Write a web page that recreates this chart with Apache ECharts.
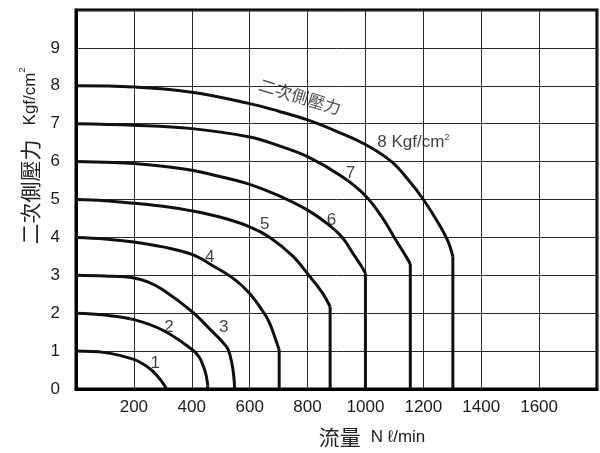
<!DOCTYPE html>
<html><head><meta charset="utf-8">
<script src="https://cdn.jsdelivr.net/npm/echarts@6/dist/echarts.min.js"></script>
<style>html,body{margin:0;padding:0;background:#fff}#c{width:600px;height:453px}</style>
</head><body><div id="c"></div>
<script>
// Secondary pressure curves: [flow N l/min, pressure kgf/cm2]
const curve1 = [[0,1.0],[100,0.96],[200,0.78],[240,0.62],[265,0.47],[290,0.26],[305,0.1],[313,0]];
const curve2 = [[0,2.0],[100,1.95],[200,1.83],[300,1.55],[400,1.05],[425,0.85],[440,0.6],[450,0.35],[455,0.1],[455,0]];
const curve3 = [[0,3.0],[100,2.98],[200,2.93],[250,2.82],[300,2.62],[400,2.05],[460,1.6],[505,1.25],[525,1.05],[538,0.7],[545,0.35],[548,0]];
const curve4 = [[0,4.0],[100,3.96],[200,3.88],[300,3.75],[400,3.55],[480,3.22],[550,2.88],[600,2.52],[650,2.0],[670,1.72],[690,1.3],[702,1.03],[702,0]];
const curve5 = [[0,5.0],[100,4.97],[200,4.9],[300,4.82],[400,4.7],[500,4.53],[600,4.28],[670,4.0],[750,3.5],[800,3.04],[850,2.55],[878,2.17],[878,0]];
const curve6 = [[0,6.0],[100,5.98],[200,5.95],[300,5.88],[400,5.77],[500,5.6],[600,5.4],[700,5.1],[800,4.72],[870,4.35],[920,4.0],[955,3.6],[985,3.25],[1000,3.05],[1000,0]];
const curve7 = [[0,7.0],[200,6.96],[400,6.87],[600,6.65],[700,6.42],[800,6.13],[920,5.6],[1000,5.1],[1060,4.5],[1105,3.93],[1140,3.5],[1155,3.3],[1155,0]];
const curve8 = [[0,8.0],[200,7.97],[400,7.83],[600,7.53],[700,7.33],[800,7.1],[900,6.8],[1000,6.45],[1090,6.0],[1150,5.5],[1200,5.0],[1250,4.4],[1285,3.9],[1302,3.5],[1302,0]];
const curves = [curve1, curve2, curve3, curve4, curve5, curve6, curve7, curve8];

// Curve number labels [x, y, text]
const curveLabels = [[274,0.69,'1'],[321,1.63,'2'],[510,1.63,'3'],[462,3.47,'4'],[652,4.35,'5'],[883,4.45,'6'],[948,5.69,'7']];
const unitLabel = [1041, 6.5];
const curveTitle = [774, 7.72, '二次側壓力'];

const X_MIN = 0, X_MAX = 1800, X_STEP = 200;
const Y_MIN = 0, Y_MAX = 10, Y_STEP = 1;

const LAT = '"Liberation Sans", Arial, sans-serif';
const CJK = '"Noto Sans CJK TC", "Noto Sans CJK SC", sans-serif';
const INK = '#111011';

const chart = echarts.init(document.getElementById('c'));
const series = [];
curves.forEach(d => {
  const n = d.length;
  const hasDrop = d[n - 1][0] === d[n - 2][0];
  const bend = hasDrop ? d.slice(0, n - 1) : d;
  series.push({ type: 'line', data: bend, symbol: 'none', smooth: 0.4, silent: true,
    lineStyle: { color: INK, width: 3 }, z: 3 });
  if (hasDrop) {
    series.push({ type: 'line', data: d.slice(n - 2), symbol: 'none', smooth: false, silent: true,
      lineStyle: { color: INK, width: 3 }, z: 3 });
  }
});
series.push({
  type: 'scatter', symbolSize: 0, silent: true, z: 4,
  data: curveLabels.map(l => ({ value: l })),
  label: { show: true, position: 'inside', formatter: p => p.value[2], fontFamily: LAT, fontSize: 17, color: INK }
});
series.push({
  type: 'scatter', symbolSize: 0, silent: true, z: 4,
  data: [{ value: unitLabel }],
  label: { show: true, position: 'inside', align: 'left', formatter: '{a|8 Kgf/cm}{s|2}',
    rich: { a: { fontFamily: LAT, fontSize: 17, color: INK, lineHeight: 20 },
            s: { fontFamily: LAT, fontSize: 9, color: INK, lineHeight: 10, verticalAlign: 'top' } } }
});
series.push({
  type: 'scatter', symbolSize: 0, silent: true, z: 4,
  data: [{ value: curveTitle }],
  label: { show: true, position: 'inside', rotate: -17, formatter: p => p.value[2], fontFamily: CJK, fontSize: 17, color: '#222' }
});

chart.setOption({
  animation: false,
  backgroundColor: '#fff',
  grid: { left: 76, right: 3, top: 10, bottom: 64, show: true, borderColor: '#000', borderWidth: 3 },
  xAxis: {
    type: 'value', min: X_MIN, max: X_MAX, interval: X_STEP,
    axisLine: { show: true, lineStyle: { color: '#000', width: 3 } },
    axisTick: { show: false },
    splitLine: { show: true, lineStyle: { color: '#2a2a2a', width: 1 } },
    axisLabel: { margin: 10, fontFamily: LAT, fontSize: 17, color: '#1a1a1a',
      formatter: v => (v === X_MIN || v === X_MAX) ? '' : String(v) }
  },
  yAxis: {
    type: 'value', min: Y_MIN, max: Y_MAX, interval: Y_STEP,
    axisLine: { show: true, lineStyle: { color: '#000', width: 3 } },
    axisTick: { show: false },
    splitLine: { show: true, lineStyle: { color: '#2a2a2a', width: 1 } },
    axisLabel: { margin: 16, fontFamily: LAT, fontSize: 17, color: '#1a1a1a',
      formatter: v => v === Y_MAX ? '' : String(v) }
  },
  graphic: [
    { type: 'text', x: 30, y: 156, rotation: Math.PI / 2, silent: true,
      style: { text: '{c|二次側壓力}{g|}{l|Kgf/cm}{s|2}', align: 'center', verticalAlign: 'middle',
        rich: { c: { fontFamily: CJK, fontSize: 21, fill: '#222', lineHeight: 24 },
                g: { width: 14 },
                l: { fontFamily: LAT, fontSize: 17, fill: '#222', lineHeight: 24 },
                s: { fontFamily: LAT, fontSize: 9, fill: '#222', lineHeight: 12, verticalAlign: 'top' } } } },
    { type: 'text', x: 372, y: 437, silent: true,
      style: { text: '{c|流量}{g|}{l|N ℓ/min}', align: 'center', verticalAlign: 'middle',
        rich: { c: { fontFamily: CJK, fontSize: 21, fill: '#222', lineHeight: 24 },
                g: { width: 10 },
                l: { fontFamily: LAT, fontSize: 17, fill: '#222', lineHeight: 24 } } } }
  ],
  series: series
});
</script>
</body></html>
